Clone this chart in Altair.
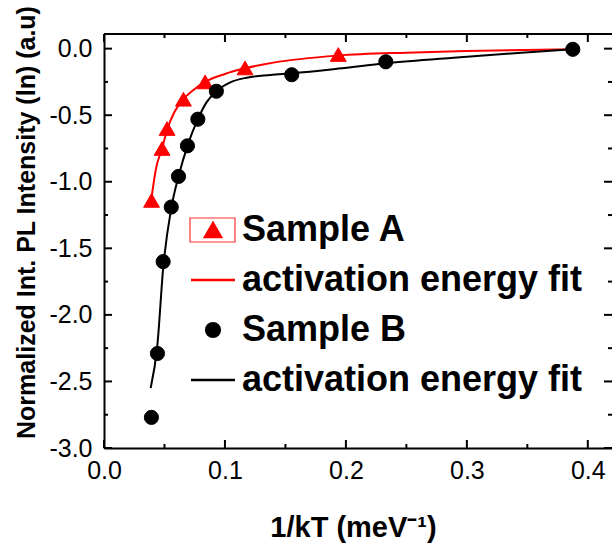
import altair as alt
import pandas as pd

# ---- data ----
series_names = ["Sample A", "fit A", "Sample B", "fit B"]

a_x = [0.0393, 0.0480, 0.0522, 0.0657, 0.0836, 0.1166, 0.1937]
a_y = [-1.14, -0.75, -0.60, -0.38, -0.25, -0.145, -0.044]

b_x = [0.0392, 0.0442, 0.0489, 0.0556, 0.0616, 0.0690, 0.0776, 0.0929, 0.1552, 0.2330, 0.3876]
b_y = [-2.77, -2.29, -1.60, -1.19, -0.96, -0.73, -0.53, -0.32, -0.196, -0.099, -0.005]

fitA_x = [0.0393, 0.0430, 0.0480, 0.0522, 0.0580, 0.0657, 0.0740, 0.0836, 0.1000, 0.1166, 0.1400, 0.1937, 0.2500, 0.3000, 0.3876]
fitA_y = [-1.12, -0.90, -0.75, -0.61, -0.48, -0.38, -0.31, -0.25, -0.19, -0.148, -0.105, -0.052, -0.030, -0.018, -0.005]

fitB_x = [0.0386, 0.0442, 0.0489, 0.0556, 0.0616, 0.0690, 0.0776, 0.0850, 0.0929, 0.1040, 0.1180, 0.1375, 0.1552, 0.1937, 0.2330, 0.2890, 0.3450, 0.3876]
fitB_y = [-2.55, -2.22, -1.65, -1.20, -0.96, -0.73, -0.53, -0.40, -0.32, -0.255, -0.218, -0.198, -0.185, -0.150, -0.110, -0.068, -0.031, -0.005]

x_major = [0.0, 0.1, 0.2, 0.3, 0.4]
x_minor = [0.05, 0.15, 0.25, 0.35]
y_major = [0.0, -0.5, -1.0, -1.5, -2.0, -2.5, -3.0]
y_minor = [-0.25, -0.75, -1.25, -1.75, -2.25, -2.75]

x_title = "1/kT (meV\u207b\u00b9)"
y_title = "Normalized Int. PL Intensity (ln) (a.u)"

# ---- layout / style ----
W, H = 508, 414
FONT = "Liberation Sans"

xscale = alt.Scale(domain=[0.0, 0.42], nice=False, zero=False)
yscale = alt.Scale(domain=[-3.0, 0.11], nice=False, zero=False)

x_axis = alt.Axis(values=x_major, format=".1f", ticks=False, grid=False,
                  domain=True, domainColor="black", domainWidth=2,
                  labelFont=FONT, labelFontSize=25, labelColor="black",
                  labelPadding=10, labelFlush=False,
                  title=x_title, titleFont=FONT, titleFontSize=29,
                  titleFontWeight="bold", titleColor="black",
                  titleX=249, titleY=79, titleBaseline="middle", titleAlign="center")

y_axis = alt.Axis(values=y_major, format=".1f",
                  labelExpr="replace(datum.label, '\u2212', '-')",
                  ticks=False, grid=False,
                  domain=True, domainColor="black", domainWidth=2,
                  labelFont=FONT, labelFontSize=25, labelColor="black",
                  labelPadding=12, labelFlush=False,
                  title=y_title, titleFont=FONT, titleFontSize=25,
                  titleFontWeight="bold", titleColor="black",
                  titleAngle=270, titleX=-78, titleY=188,
                  titleBaseline="middle", titleAlign="center")

X = lambda f="x": alt.X(f + ":Q", scale=xscale, axis=x_axis)
Y = lambda f="y": alt.Y(f + ":Q", scale=yscale, axis=y_axis)

ptsA = pd.DataFrame({"x": a_x, "y": a_y, "series": ["Sample A"] * len(a_x)})
ptsB = pd.DataFrame({"x": b_x, "y": b_y, "series": ["Sample B"] * len(b_x)})
fitA = pd.DataFrame({"x": fitA_x, "y": fitA_y})
fitB = pd.DataFrame({"x": fitB_x, "y": fitB_y})

leg = alt.Legend(
    title=None, orient="none", legendX=91, legendY=178,
    labelExpr="(datum.label == 'fit A' || datum.label == 'fit B') ? 'activation energy fit' : datum.label",
    labelFont=FONT, labelFontSize=36, labelFontWeight="bold",
    labelColor="black", labelLimit=600, labelOffset=11,
    rowPadding=14, padding=0, symbolStrokeWidth=2.4, symbolOpacity=1,
    symbolSize={"expr": "(datum.value == 'fit A' || datum.value == 'fit B') ? 1936 : (datum.value == 'Sample A' ? 260 : 190)"},
)

col_scale = alt.Scale(domain=series_names, range=["#ff0000", "#ff0000", "#000000", "#000000"])
shape_scale = alt.Scale(domain=series_names, range=["triangle-up", "stroke", "circle", "stroke"])

def pt_enc():
    return dict(
        x=X(), y=Y(),
        color=alt.Color("series:N", scale=col_scale, legend=leg),
        stroke=alt.Stroke("series:N", scale=col_scale, legend=leg),
        shape=alt.Shape("series:N", scale=shape_scale, legend=leg),
    )

line_a = alt.Chart(fitA).mark_line(color="#ff0000", strokeWidth=2, interpolate="monotone").encode(x=X(), y=Y())
line_b = alt.Chart(fitB).mark_line(color="#000000", strokeWidth=2, interpolate="monotone").encode(x=X(), y=Y())

points_a = alt.Chart(ptsA).mark_point(filled=True, opacity=1, strokeWidth=1, size=250).encode(**pt_enc())
points_b = alt.Chart(ptsB).mark_point(filled=True, opacity=1, strokeWidth=1, size=200).encode(**pt_enc())

def xticks(vals, length):
    d = pd.DataFrame({"x": vals})
    bot = alt.Chart(d).mark_rule(color="black", strokeWidth=2).encode(
        x=X(), y=alt.value(H), y2=alt.value(H - length))
    top = alt.Chart(d).mark_rule(color="black", strokeWidth=2).encode(
        x=X(), y=alt.value(0), y2=alt.value(length))
    return [bot, top]

def yticks(vals, length):
    d = pd.DataFrame({"y": vals})
    left = alt.Chart(d).mark_rule(color="black", strokeWidth=2).encode(
        y=Y(), x=alt.value(0), x2=alt.value(length))
    right = alt.Chart(d).mark_rule(color="black", strokeWidth=2).encode(
        y=Y(), x=alt.value(W), x2=alt.value(W - length))
    return [left, right]

top_frame = alt.Chart(pd.DataFrame({"x": [0.0]})).mark_rule(color="black", strokeWidth=2).encode(
    x=alt.value(0), x2=alt.value(W), y=alt.value(0))

legend_box = alt.Chart(pd.DataFrame({"x": [0.0]})).mark_rect(
    fillOpacity=0, stroke="#ff3030", strokeWidth=1.2).encode(
    x=alt.value(86), x2=alt.value(131), y=alt.value(184), y2=alt.value(208))

layers = ([line_a, line_b, points_a, points_b]
          + xticks(x_major, 8) + xticks(x_minor, 4)
          + yticks(y_major, 8) + yticks(y_minor, 4)
          + [top_frame, legend_box])

chart = alt.layer(*layers).properties(
    width=W, height=H,
    padding={"left": 104, "top": 34, "right": 0, "bottom": 98},
    autosize=alt.AutoSizeParams(type="none"),
    background="white",
).configure_view(stroke=None)

chart.save("out.html", embed_options={"renderer": "svg", "actions": False})
